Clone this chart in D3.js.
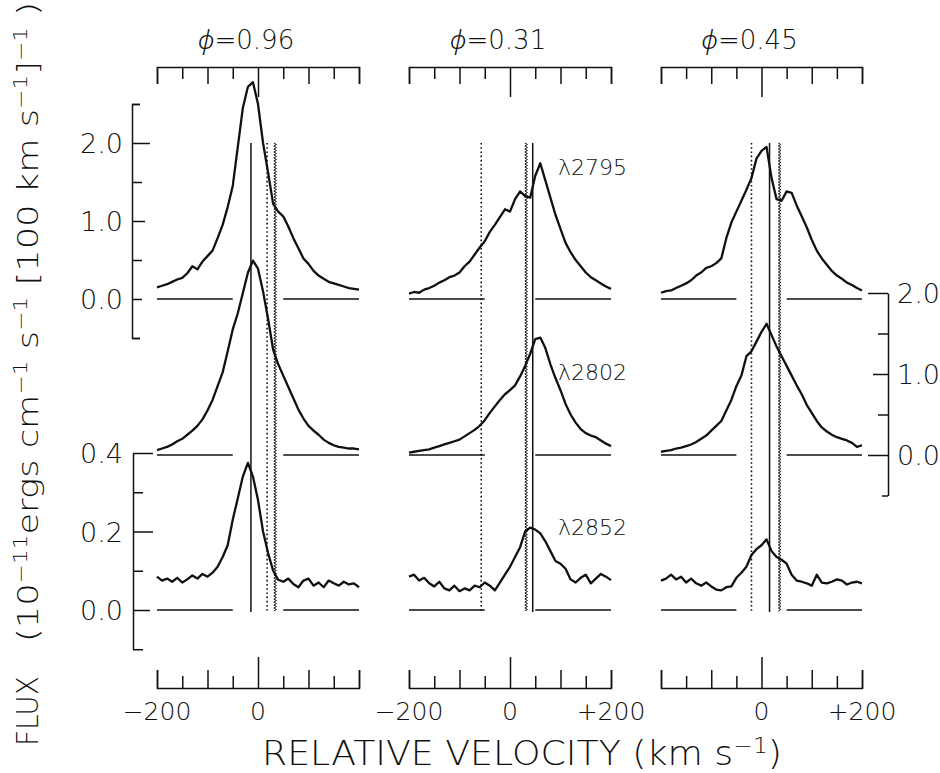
<!DOCTYPE html>
<html>
<head>
<meta charset="utf-8">
<script src="https://cdn.jsdelivr.net/npm/d3@7"></script>
<style>
  html, body { margin: 0; background: #fff; }
  svg text { font-family: "DejaVu Sans", "Liberation Sans", sans-serif; font-weight: 200; fill: #111; }
  .axis path, .axis line { stroke: #111; stroke-width: 1.5; }
  .phi { font-family: "Noto Sans", "DejaVu Sans", sans-serif; font-weight: 300; font-style: italic; }
</style>
</head>
<body>
<svg id="chart" width="940" height="773"></svg>
<script>
(function () {
  'use strict';

  // velocity grid (km/s) shared by every profile
  const vel = [-200, -190, -180, -170, -160, -150, -140, -130, -120, -110, -100,
               -90, -80, -70, -60, -50, -40, -30, -20, -10, 0,
               10, 20, 30, 40, 50, 60, 70, 80, 90, 100,
               110, 120, 130, 140, 150, 160, 170, 180, 190, 200];

  const phases = ['0.96', '0.31', '0.45'];
  const lineNames = ['\u03bb2795', '\u03bb2802', '\u03bb2852'];

  // phase 0.96
  const f096_2795 = [0.15, 0.17, 0.19, 0.22, 0.25, 0.27, 0.33, 0.42, 0.38, 0.48, 0.55,
                     0.62, 0.78, 0.95, 1.18, 1.45, 1.95, 2.45, 2.72, 2.78, 2.50,
                     2.00, 1.62, 1.22, 1.12, 1.06, 0.93, 0.78, 0.65, 0.52, 0.45,
                     0.36, 0.30, 0.26, 0.22, 0.20, 0.18, 0.16, 0.14, 0.13, 0.12];
  const f096_2802 = [0.06, 0.08, 0.10, 0.13, 0.17, 0.20, 0.25, 0.30, 0.36, 0.44, 0.55,
                     0.68, 0.85, 1.02, 1.28, 1.55, 1.75, 2.00, 2.25, 2.40, 2.30,
                     2.02, 1.68, 1.30, 1.12, 0.98, 0.84, 0.70, 0.56, 0.45, 0.36,
                     0.30, 0.25, 0.19, 0.15, 0.12, 0.10, 0.09, 0.08, 0.08, 0.07];
  const f096_2852 = [0.085, 0.075, 0.080, 0.072, 0.082, 0.070, 0.078, 0.088, 0.080, 0.092, 0.085,
                     0.095, 0.110, 0.135, 0.165, 0.230, 0.285, 0.340, 0.375, 0.340, 0.280,
                     0.200, 0.145, 0.100, 0.077, 0.072, 0.080, 0.066, 0.058, 0.075, 0.080,
                     0.062, 0.070, 0.058, 0.075, 0.068, 0.062, 0.072, 0.065, 0.068, 0.058];

  // phase 0.31
  const f031_2795 = [0.07, 0.09, 0.08, 0.12, 0.14, 0.17, 0.21, 0.24, 0.28, 0.30, 0.34,
                     0.42, 0.48, 0.57, 0.66, 0.74, 0.86, 0.95, 1.05, 1.15, 1.12,
                     1.28, 1.38, 1.32, 1.30, 1.58, 1.74, 1.52, 1.30, 1.08, 0.90,
                     0.72, 0.60, 0.50, 0.42, 0.34, 0.28, 0.24, 0.20, 0.16, 0.13];
  const f031_2802 = [0.03, 0.04, 0.05, 0.06, 0.07, 0.09, 0.11, 0.13, 0.15, 0.17, 0.19,
                     0.23, 0.27, 0.31, 0.36, 0.43, 0.52, 0.60, 0.68, 0.75, 0.80,
                     0.86, 0.97, 1.10, 1.25, 1.43, 1.45, 1.32, 1.12, 0.95, 0.80,
                     0.63, 0.50, 0.40, 0.32, 0.27, 0.24, 0.22, 0.18, 0.14, 0.11];
  const f031_2852 = [0.085, 0.090, 0.075, 0.082, 0.068, 0.060, 0.072, 0.055, 0.050, 0.062, 0.048,
                     0.055, 0.050, 0.062, 0.058, 0.070, 0.062, 0.050, 0.070, 0.090, 0.110,
                     0.135, 0.160, 0.200, 0.210, 0.205, 0.195, 0.175, 0.150, 0.125, 0.118,
                     0.105, 0.078, 0.070, 0.082, 0.090, 0.068, 0.080, 0.092, 0.085, 0.076];

  // phase 0.45
  const f045_2795 = [0.08, 0.10, 0.11, 0.14, 0.17, 0.20, 0.24, 0.30, 0.34, 0.40, 0.42,
                     0.46, 0.52, 0.78, 0.98, 1.12, 1.26, 1.40, 1.55, 1.80, 1.90,
                     1.95, 1.55, 1.28, 1.26, 1.38, 1.36, 1.20, 1.06, 0.92, 0.76,
                     0.62, 0.52, 0.44, 0.36, 0.30, 0.26, 0.21, 0.18, 0.14, 0.11];
  const f045_2802 = [0.04, 0.05, 0.06, 0.08, 0.09, 0.11, 0.13, 0.16, 0.20, 0.24, 0.30,
                     0.36, 0.42, 0.55, 0.68, 0.85, 0.98, 1.22, 1.28, 1.40, 1.52,
                     1.62, 1.48, 1.34, 1.22, 1.10, 0.98, 0.86, 0.75, 0.62, 0.52,
                     0.42, 0.34, 0.29, 0.25, 0.22, 0.20, 0.18, 0.15, 0.10, 0.12];
  const f045_2852 = [0.075, 0.080, 0.090, 0.078, 0.085, 0.070, 0.080, 0.068, 0.062, 0.070, 0.060,
                     0.052, 0.050, 0.058, 0.060, 0.082, 0.095, 0.110, 0.140, 0.155, 0.165,
                     0.180, 0.150, 0.135, 0.128, 0.118, 0.090, 0.075, 0.072, 0.068, 0.062,
                     0.090, 0.070, 0.068, 0.072, 0.078, 0.075, 0.065, 0.070, 0.072, 0.068];

  const profiles = [
    [f096_2795, f096_2802, f096_2852],
    [f031_2795, f031_2802, f031_2852],
    [f045_2795, f045_2802, f045_2852]
  ];

  // reference velocities per panel (km/s)
  const solidVel  = [-14, 45, 16];
  const dottedVel = [18, -57, -20];
  const wavyVel   = [34, 32, 36];

  // axis ticks
  const velLong  = [-200, -100, 100, 200];
  const velShort = [-150, -50, 50, 150];
  const botTickVals   = [[-200, 0], [-200, 0, 200], [0, 200]];
  const botTickLabels = [['\u2212200', '0'], ['\u2212200', '0', '+200'], ['0', '+200']];
  const gapVel = [-50, 50];

  // layout
  const PANEL_X  = [[157, 359], [409, 611], [661, 862]];
  const ROWS     = [
    { zero: 299, top: 143, topVal: 2 },
    { zero: 455, top: 293, topVal: 2 },
    { zero: 610, top: 453, topVal: 0.4 }
  ];
  const TOP_AX_Y = 67;
  const BOT_AX_Y = 688;
  const REF_TOP  = 143;
  const REF_BOT  = 612;
  const INK = '#111';

  const svg = d3.select('#chart');
  svg.append('rect').attr('width', 940).attr('height', 773).attr('fill', '#fff');

  const yScales = ROWS.map(r => d3.scaleLinear().domain([0, r.topVal]).range([r.zero, r.top]));
  const xScales = PANEL_X.map(p => d3.scaleLinear().domain([-200, 200]).range(p));

  function axisPart(axisFn, scale, vals, size, keepDomain, transform) {
    const a = axisFn(scale).tickValues(vals).tickSize(size)
      .tickSizeOuter(keepDomain ? size : 0).tickFormat('');
    const g = svg.append('g').attr('class', 'axis').attr('transform', transform).call(a);
    g.selectAll('text').remove();
    if (!keepDomain) g.select('.domain').remove();
    return g;
  }

  // velocity axes, top and bottom of each column
  xScales.forEach((x, i) => {
    axisPart(d3.axisBottom, x, velLong, 17, true, `translate(0,${TOP_AX_Y})`);
    axisPart(d3.axisBottom, x, velShort, 12, false, `translate(0,${TOP_AX_Y})`);
    axisPart(d3.axisBottom, x, [0], 30, false, `translate(0,${TOP_AX_Y})`);

    axisPart(d3.axisTop, x, velLong, 18, true, `translate(0,${BOT_AX_Y})`);
    axisPart(d3.axisTop, x, velShort, 12, false, `translate(0,${BOT_AX_Y})`);
    axisPart(d3.axisTop, x, [0], 31, false, `translate(0,${BOT_AX_Y})`);

    svg.append('text')
      .attr('x', d3.mean(x.range()) - 12).attr('y', 49)
      .attr('text-anchor', 'middle').attr('font-size', 26)
      .html(`<tspan class="phi">\u03d5</tspan>=${phases[i]}`);

    botTickVals[i].forEach((v, k) => {
      svg.append('text')
        .attr('x', x(v)).attr('y', 720)
        .attr('text-anchor', 'middle').attr('font-size', 25)
        .text(botTickLabels[i][k]);
    });
  });

  // flux axes
  const y0 = yScales[0], y1 = yScales[1], y2 = yScales[2];
  const yLeftTop = d3.scaleLinear().domain([-0.5, 2.5]).range([y0(-0.5), y0(2.5)]);
  axisPart(d3.axisRight, yLeftTop, [2], 18, false, 'translate(132,0)');
  axisPart(d3.axisRight, yLeftTop, [1], 13, false, 'translate(132,0)');
  axisPart(d3.axisRight, yLeftTop, [0, 0.5, 1.5], 10, false, 'translate(132,0)');
  axisPart(d3.axisRight, yLeftTop, [-0.5, 2.5], 8, true, 'translate(132,0)');

  const yLeftBot = d3.scaleLinear().domain([-0.1, 0.4]).range([y2(-0.1), y2(0.4)]);
  axisPart(d3.axisRight, yLeftBot, [0.2, 0.4], 20, false, 'translate(133,0)');
  axisPart(d3.axisRight, yLeftBot, [0], 17, false, 'translate(133,0)');
  axisPart(d3.axisRight, yLeftBot, [-0.1, 0.1, 0.3], 10, false, 'translate(133,0)');
  axisPart(d3.axisRight, yLeftBot, [], 0, true, 'translate(133,0)');

  const yRight = d3.scaleLinear().domain([-0.5, 2]).range([y1(-0.5), y1(2)]);
  axisPart(d3.axisLeft, yRight, [0, 2], 20, false, 'translate(888,0)');
  axisPart(d3.axisLeft, yRight, [1], 15, false, 'translate(888,0)');
  axisPart(d3.axisLeft, yRight, [0.5, 1.5], 10, false, 'translate(888,0)');
  axisPart(d3.axisLeft, yRight, [-0.5], 6, false, 'translate(888,0)');
  axisPart(d3.axisLeft, yRight, [], 0, true, 'translate(888,0)');

  const fluxLabel = (x, y, anchor, txt) => svg.append('text')
    .attr('x', x).attr('y', y + 10).attr('text-anchor', anchor)
    .attr('font-size', 27).text(txt);
  [0, 1, 2].forEach(v => fluxLabel(123, y0(v), 'end', v.toFixed(1)));
  [0, 0.2, 0.4].forEach(v => fluxLabel(123, y2(v), 'end', v.toFixed(1)));
  [0, 1, 2].forEach(v => fluxLabel(897, y1(v), 'start', v.toFixed(1)));

  // zero-flux baselines with central gap
  xScales.forEach(x => {
    yScales.forEach(y => {
      [[-200, gapVel[0]], [gapVel[1], 200]].forEach(seg => {
        svg.append('line')
          .attr('x1', x(seg[0])).attr('x2', x(seg[1]))
          .attr('y1', y(0)).attr('y2', y(0))
          .attr('stroke', INK).attr('stroke-width', 1.6);
      });
    });
  });

  // reference velocity markers
  xScales.forEach((x, i) => {
    svg.append('line')
      .attr('x1', x(solidVel[i])).attr('x2', x(solidVel[i]))
      .attr('y1', REF_TOP).attr('y2', REF_BOT)
      .attr('stroke', INK).attr('stroke-width', 1.5);
    svg.append('line')
      .attr('x1', x(dottedVel[i])).attr('x2', x(dottedVel[i]))
      .attr('y1', REF_TOP).attr('y2', REF_BOT)
      .attr('stroke', INK).attr('stroke-width', 1.6)
      .attr('stroke-dasharray', '1.6,2.6');
    const wx = x(wavyVel[i]);
    const pts = d3.range(REF_TOP, REF_BOT, 1.5).map((yy, k) => [wx + (k % 2 ? 1.3 : -1.3), yy]);
    svg.append('path')
      .attr('d', d3.line()(pts))
      .attr('fill', 'none').attr('stroke', INK).attr('stroke-width', 1);
  });

  // line profiles
  xScales.forEach((x, i) => {
    yScales.forEach((y, r) => {
      const data = vel.map((v, k) => [v, profiles[i][r][k]]);
      svg.append('path')
        .datum(data)
        .attr('d', d3.line().x(d => x(d[0])).y(d => y(d[1])))
        .attr('fill', 'none').attr('stroke', INK)
        .attr('stroke-width', 2.3).attr('stroke-linejoin', 'round');
    });
  });

  // line identifications
  const idY = [175, 380, 535];
  lineNames.forEach((n, r) => {
    svg.append('text').attr('x', 558).attr('y', idY[r])
      .attr('font-size', 22).text(n);
  });

  // axis titles
  svg.append('text')
    .attr('x', 522).attr('y', 765).attr('text-anchor', 'middle')
    .attr('font-size', 34)
    .attr('textLength', 520).attr('lengthAdjust', 'spacingAndGlyphs')
    .html('RELATIVE VELOCITY (km s<tspan baseline-shift="super" font-size="22">\u22121</tspan>)');

  svg.append('text')
    .attr('transform', 'translate(38,746) rotate(-90)')
    .attr('font-size', 30)
    .attr('textLength', 70).attr('lengthAdjust', 'spacingAndGlyphs')
    .text('FLUX');

  svg.append('text')
    .attr('transform', 'translate(38,642) rotate(-90)')
    .attr('font-size', 29)
    .attr('textLength', 640).attr('lengthAdjust', 'spacingAndGlyphs')
    .html('(10<tspan baseline-shift="super" font-size="19">\u221211</tspan>ergs cm<tspan baseline-shift="super" font-size="19">\u22121</tspan> s<tspan baseline-shift="super" font-size="19">\u22121</tspan> [100 km s<tspan baseline-shift="super" font-size="19">\u22121</tspan>]<tspan baseline-shift="super" font-size="19">\u22121</tspan> )');
})();
</script>
</body>
</html>
